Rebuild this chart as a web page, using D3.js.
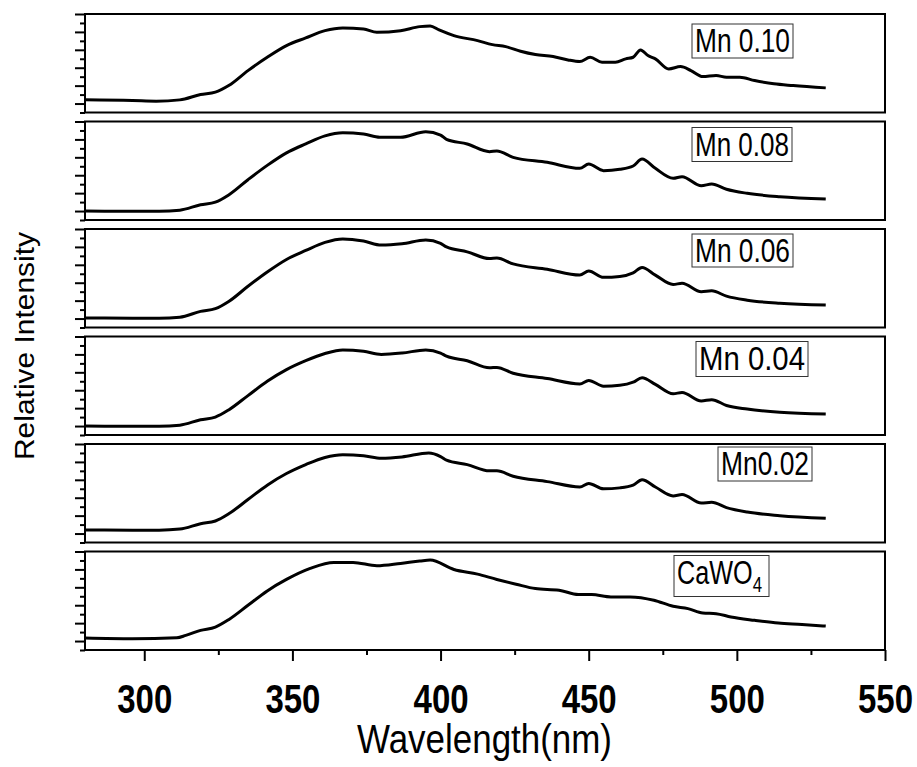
<!DOCTYPE html>
<html>
<head>
<meta charset="utf-8">
<script src="https://cdn.jsdelivr.net/npm/d3@7"></script>
<style>
  body { margin: 0; background: #fff; }
  svg { display: block; }
  text { font-family: "Liberation Sans", Arial, sans-serif; fill: #000; }
</style>
</head>
<body>
<svg id="chart" width="917" height="767"></svg>
<script>
// excitation spectra, [wavelength nm, relative intensity a.u.]
const mn010 = [[280,0.141],[296,0.134],[304,0.126],[312,0.141],[319,0.201],[324,0.227],[328.5,0.301],[335,0.468],[341.5,0.617],[348,0.747],[354.5,0.833],[361,0.914],[367,0.944],[374,0.933],[378.5,0.896],[386.5,0.914],[393,0.959],[396.5,0.967],[399.5,0.922],[404.5,0.859],[412.5,0.803],[417.5,0.758],[422,0.736],[427,0.684],[432,0.647],[438,0.625],[443,0.587],[447,0.569],[450.5,0.617],[454.5,0.561],[459,0.561],[462.5,0.599],[465,0.617],[467.5,0.699],[470,0.636],[472.5,0.599],[477,0.487],[481,0.513],[484.5,0.468],[488.5,0.401],[493,0.413],[496.5,0.394],[501,0.394],[506,0.357],[512.5,0.320],[519,0.301],[530,0.275]];
const mn008 = [[280,0.100],[296,0.098],[305,0.098],[312,0.110],[319,0.170],[324,0.200],[328.5,0.280],[335,0.450],[341.5,0.610],[348,0.750],[354.5,0.850],[361,0.940],[367,0.975],[374,0.960],[379.5,0.924],[386.5,0.924],[395,0.986],[400,0.949],[402,0.901],[409,0.849],[416.5,0.763],[419,0.771],[424.5,0.700],[436,0.644],[447,0.577],[450,0.625],[455,0.551],[460.5,0.566],[465,0.603],[468,0.681],[472.5,0.577],[478.5,0.466],[481.5,0.484],[488,0.383],[491.5,0.402],[496.5,0.343],[503.5,0.298],[514.5,0.260],[530,0.235]];
const mn006 = [[280,0.106],[296,0.104],[305,0.104],[312,0.115],[319,0.180],[324,0.210],[328.5,0.290],[335,0.460],[341.5,0.620],[348,0.760],[354.5,0.860],[361,0.950],[367,0.988],[374,0.965],[380,0.920],[387,0.935],[395,0.977],[400,0.940],[402,0.900],[409,0.845],[416.5,0.770],[419,0.775],[424.5,0.710],[436,0.650],[447,0.585],[450,0.630],[455,0.560],[460.5,0.570],[465,0.610],[468,0.670],[472.5,0.585],[478.5,0.480],[481.5,0.495],[488,0.400],[491.5,0.410],[496.5,0.350],[503.5,0.305],[514.5,0.270],[530,0.250]];
const mn004 = [[280,0.100],[296,0.098],[305,0.098],[312,0.110],[319,0.170],[324,0.200],[328.5,0.280],[335,0.440],[341.5,0.600],[348,0.730],[354.5,0.830],[361,0.910],[367,0.950],[374,0.935],[380,0.900],[387,0.915],[395,0.950],[400,0.915],[402,0.880],[409,0.830],[416.5,0.750],[419,0.755],[424.5,0.690],[436,0.630],[447,0.570],[450,0.610],[455,0.545],[460.5,0.555],[465,0.590],[468,0.640],[472.5,0.565],[478.5,0.460],[481.5,0.475],[488,0.380],[491.5,0.395],[496.5,0.330],[503.5,0.290],[514.5,0.255],[530,0.235]];
const mn002 = [[280,0.140],[296,0.138],[305,0.138],[312,0.150],[319,0.210],[324,0.240],[328.5,0.320],[335,0.480],[341.5,0.640],[348,0.770],[354.5,0.870],[361,0.950],[367,0.980],[374,0.970],[380,0.940],[387,0.955],[396,1.000],[400,0.960],[402,0.920],[409,0.870],[416.5,0.800],[419,0.800],[424.5,0.740],[436,0.680],[447,0.620],[450,0.660],[455,0.600],[460.5,0.610],[465,0.640],[468,0.700],[472.5,0.620],[478.5,0.520],[481.5,0.535],[488,0.440],[491.5,0.450],[496.5,0.390],[503.5,0.340],[514.5,0.300],[530,0.270]];
const cawo4 = [[280,0.133],[296,0.125],[311,0.137],[314,0.163],[319,0.219],[324,0.256],[328.5,0.339],[335,0.499],[341.5,0.660],[348,0.788],[356,0.911],[364,0.978],[370.5,0.978],[378.5,0.941],[386.5,0.967],[393,0.993],[396.5,1.004],[404.5,0.899],[412.5,0.847],[419,0.788],[425.5,0.735],[432,0.686],[440,0.668],[446.5,0.619],[451,0.619],[457.5,0.593],[464,0.593],[472,0.556],[478.5,0.488],[483.5,0.462],[488.5,0.413],[493,0.406],[498,0.368],[506,0.331],[514,0.301],[522,0.286],[530,0.267]];

const seriesNames = ["Mn 0.10", "Mn 0.08", "Mn 0.06", "Mn 0.04", "Mn0.02", "CaWO4"];
const seriesData = [mn010, mn008, mn006, mn004, mn002, cawo4];
const xMajorTicks = [300, 350, 400, 450, 500, 550];
const xMinorTicks = [325, 375, 425, 475, 525];
const yMajorTicks = [0.1, 0.3, 0.5, 0.7, 0.9, 1.1];
const yMinorTicks = [0, 0.2, 0.4, 0.6, 0.8, 1.0];

// label boxes: [left, top offset in panel, width, height]
const labelBoxes = [[692, 10, 101, 34], [692, 6, 100, 34], [692, 5, 101, 33], [696, 5, 112, 35], [718, 3, 94, 34], [674, 4, 95, 41]];

const svg = d3.select("#chart");

const left = 85, right = 885;
const top0 = 14, pitch = 107.5, panelH = 98.5;

const x = d3.scaleLinear().domain([280, 550]).range([left, right]);

const line = d3.line()
	.x(d => x(d[0]))
	.curve(d3.curveMonotoneX);

seriesData.forEach((data, i) => {
	const pTop = top0 + i * pitch;
	const y = d3.scaleLinear().domain([0, 1.1]).range([pTop + panelH, pTop]);

	const g = svg.append("g");

	g.append("path")
		.datum(data)
		.attr("fill", "none")
		.attr("stroke", "#000")
		.attr("stroke-width", 3)
		.attr("stroke-linejoin", "round")
		.attr("d", line.y(d => y(d[1])));

	// y ticks (no labels)
	const yMinor = g.append("g").attr("transform", `translate(${left},0)`)
		.call(d3.axisLeft(y).tickValues(yMinorTicks).tickSize(5).tickFormat(""));
	const yMajor = g.append("g").attr("transform", `translate(${left},0)`)
		.call(d3.axisLeft(y).tickValues(yMajorTicks).tickSize(10).tickFormat(""));
	[yMinor, yMajor].forEach(a => {
		a.select(".domain").remove();
		a.selectAll("line").attr("stroke", "#000").attr("stroke-width", 2);
	});

	g.append("rect")
		.attr("x", left).attr("y", pTop)
		.attr("width", right - left).attr("height", panelH)
		.attr("fill", "none")
		.attr("stroke", "#000")
		.attr("stroke-width", 2);

	// sample label
	const b = labelBoxes[i];
	g.append("rect")
		.attr("x", b[0]).attr("y", pTop + b[1])
		.attr("width", b[2]).attr("height", b[3])
		.attr("fill", "#fff")
		.attr("stroke", "#333")
		.attr("stroke-width", 1);

	const t = g.append("text")
		.attr("x", b[0] + 3)
		.attr("y", pTop + b[1] + 28)
		.attr("font-size", 33)
		.attr("lengthAdjust", "spacingAndGlyphs");
	if (seriesNames[i] === "CaWO4") {
		t.attr("textLength", b[2] - 10);
		t.append("tspan").text("CaWO");
		t.append("tspan").attr("font-size", 22).attr("dy", 8).text("4");
	} else {
		t.attr("textLength", b[2] - 6).text(seriesNames[i]);
	}

	if (i === seriesData.length - 1) {
		const xb = pTop + panelH;
		const xMinor = svg.append("g").attr("transform", `translate(0,${xb})`)
			.call(d3.axisBottom(x).tickValues(xMinorTicks).tickSize(5).tickFormat(""));
		const xMajor = svg.append("g").attr("transform", `translate(0,${xb})`)
			.call(d3.axisBottom(x).tickValues(xMajorTicks).tickSize(11).tickFormat(d3.format("d")));
		[xMinor, xMajor].forEach(a => {
			a.select(".domain").remove();
			a.selectAll("line").attr("stroke", "#000").attr("stroke-width", 2);
		});
		xMajor.selectAll("text")
			.attr("y", 63)
			.attr("dy", 0)
			.attr("font-size", 40)
			.attr("font-weight", "bold")
			.attr("font-family", "Liberation Sans, Arial, sans-serif")
			.attr("textLength", 55)
			.attr("lengthAdjust", "spacingAndGlyphs")
			.attr("fill", "#000");
	}
});

svg.append("text")
	.attr("x", 484.5)
	.attr("y", 753)
	.attr("text-anchor", "middle")
	.attr("font-size", 40)
	.attr("textLength", 255)
	.attr("lengthAdjust", "spacingAndGlyphs")
	.text("Wavelength(nm)");

svg.append("text")
	.attr("transform", "translate(34,346) rotate(-90)")
	.attr("text-anchor", "middle")
	.attr("font-size", 27)
	.attr("textLength", 228)
	.attr("lengthAdjust", "spacingAndGlyphs")
	.text("Relative Intensity");
</script>
</body>
</html>
